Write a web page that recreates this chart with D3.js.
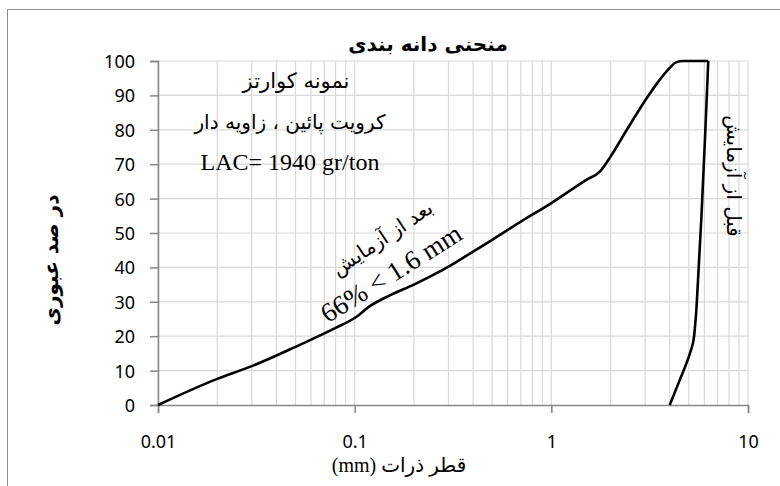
<!DOCTYPE html>
<html>
<head>
<meta charset="utf-8">
<script src="https://cdn.jsdelivr.net/npm/d3@7"></script>
<style>
  body { margin: 0; background: #fff; }
  text { fill: #000; }
</style>
</head>
<body>
<div id="chart"></div>
<script>
// sieve data, size in mm vs percent passing
const afterSize = [0.01, 0.02, 0.03, 0.05, 0.08, 0.1, 0.12, 0.15, 0.2, 0.3, 0.4, 0.5, 0.7, 1, 1.5, 1.77, 2, 2.42, 3, 3.5, 4, 4.3, 4.7, 6.28];
const afterPass = [0, 7.6, 11.3, 16.9, 22.4, 25.3, 28.8, 31.8, 35, 40.2, 44.6, 48, 53.3, 58.7, 65.4, 67.9, 72.2, 80, 88.5, 94, 98, 99.6, 100, 100];
const beforeSize = [4.0, 4.5, 5.0, 5.25, 5.4, 5.56, 5.8, 6.05, 6.28];
const beforePass = [0, 7.3, 14, 18, 24, 35.5, 55, 78, 100];
const xTicks = [0.01, 0.1, 1, 10];
const yTicks = [0, 10, 20, 30, 40, 50, 60, 70, 80, 90, 100];

const W = 780, H = 486;
const pLeft = 158, pRight = 748, pTop = 61, pBottom = 405;

const svg = d3.select("#chart").append("svg")
  .attr("width", W)
  .attr("height", H);

svg.append("rect")
  .attr("x", 7.5).attr("y", 9.5)
  .attr("width", 900).attr("height", 600)
  .style("fill", "#fff")
  .style("stroke", "#8c8c8c")
  .style("stroke-width", 1);

const x = d3.scaleLog().domain([0.01, 10]).range([pLeft, pRight]);
const y = d3.scaleLinear().domain([0, 100]).range([pBottom, pTop]);

// minor grid for log axis
const minor = [];
[0.01, 0.1, 1].forEach((d) => {
  for (let k = 2; k <= 9; k++) minor.push(d * k);
});
svg.append("g")
  .selectAll("line")
  .data(minor.concat(xTicks))
  .join("line")
  .attr("x1", (d) => x(d)).attr("x2", (d) => x(d))
  .attr("y1", pTop).attr("y2", pBottom)
  .style("stroke", "#d9d9d9")
  .style("stroke-width", 1.2);

svg.append("g")
  .selectAll("line")
  .data(yTicks.slice(1))
  .join("line")
  .attr("x1", pLeft).attr("x2", pRight)
  .attr("y1", (d) => y(d)).attr("y2", (d) => y(d))
  .style("stroke", "#d9d9d9")
  .style("stroke-width", 1.2);

const yAxis = svg.append("g")
  .attr("transform", `translate(${pLeft},0)`)
  .call(d3.axisLeft(y).tickValues(yTicks).tickSize(8).tickPadding(15));
const xAxis = svg.append("g")
  .attr("transform", `translate(0,${pBottom})`)
  .call(d3.axisBottom(x).tickValues(xTicks).tickFormat((d) => String(d)).tickSize(8).tickPadding(22));

[xAxis, yAxis].forEach((g) => {
  g.select(".domain").style("stroke", "#868686").style("stroke-width", 1.5);
  g.selectAll(".tick line").style("stroke", "#868686").style("stroke-width", 1.5);
  g.selectAll("text")
    .style("font-family", "Noto Sans, sans-serif")
    .style("font-size", "18px")
    .style("fill", "#000");
});
yAxis.selectAll("text").attr("dy", "0.36em");

const line = d3.line()
  .x((d) => x(d[0]))
  .y((d) => y(d[1]))
  .curve(d3.curveMonotoneX);

svg.append("path")
  .datum(afterSize.map((d, i) => [d, afterPass[i]]))
  .attr("d", line)
  .style("fill", "none")
  .style("stroke", "#000")
  .style("stroke-width", 2.6);

svg.append("path")
  .datum(beforeSize.map((d, i) => [d, beforePass[i]]))
  .attr("d", d3.line().x((d) => x(d[0])).y((d) => y(d[1])).curve(d3.curveMonotoneY))
  .style("fill", "none")
  .style("stroke", "#000")
  .style("stroke-width", 2.6);

const persian = "DejaVu Sans, sans-serif";

svg.append("text")
  .attr("x", 428).attr("y", 51)
  .attr("text-anchor", "middle")
  .style("font-family", persian)
  .style("font-weight", "bold")
  .style("font-size", "20px")
  .text("منحنی دانه بندی");

svg.append("text")
  .attr("transform", "translate(58,260) rotate(-90)")
  .attr("text-anchor", "middle")
  .style("font-family", persian)
  .style("font-weight", "bold")
  .style("font-size", "20px")
  .text("در صد عبوری");

svg.append("text")
  .attr("x", 399).attr("y", 472)
  .attr("text-anchor", "middle")
  .style("font-family", "Liberation Serif, DejaVu Sans, serif")
  .style("font-size", "20px")
  .text("(mm)  قطر ذرات");

svg.append("text")
  .attr("x", 296).attr("y", 88)
  .attr("text-anchor", "middle")
  .style("font-family", persian)
  .style("font-size", "21px")
  .text("نمونه کوارتز");

svg.append("text")
  .attr("x", 290).attr("y", 129)
  .attr("text-anchor", "middle")
  .style("font-family", persian)
  .style("font-size", "20px")
  .text("کرویت پائین ، زاویه دار");

svg.append("text")
  .attr("x", 290).attr("y", 170)
  .attr("text-anchor", "middle")
  .style("font-family", "Liberation Serif, serif")
  .style("font-size", "24px")
  .text("LAC= 1940 gr/ton");

svg.append("text")
  .attr("transform", "translate(386,244) rotate(-34)")
  .attr("text-anchor", "middle")
  .style("font-family", persian)
  .style("font-size", "20px")
  .text("بعد از آزمایش");

svg.append("text")
  .attr("transform", "translate(396,281) rotate(-32)")
  .attr("text-anchor", "middle")
  .style("font-family", "Liberation Serif, serif")
  .style("font-size", "27px")
  .text("66% < 1.6 mm");

svg.append("text")
  .attr("transform", "translate(727,176) rotate(90)")
  .attr("text-anchor", "middle")
  .style("font-family", persian)
  .style("font-size", "20px")
  .text("قبل از آزمایش");
</script>
</body>
</html>
